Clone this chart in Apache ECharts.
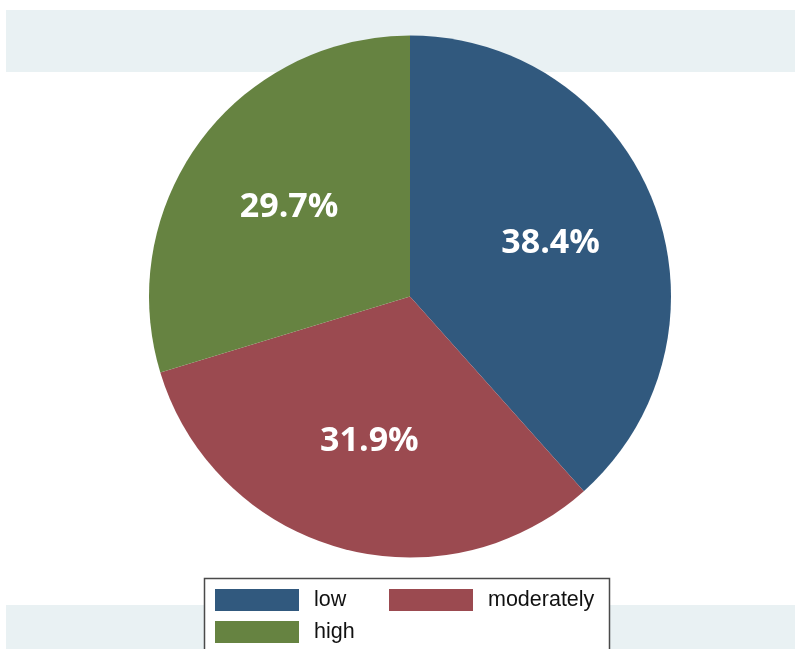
<!DOCTYPE html>
<html>
<head>
<meta charset="utf-8">
<script src="https://cdn.jsdelivr.net/npm/echarts@6/dist/echarts.min.js"></script>
<style>
html, body { margin: 0; padding: 0; background: #fff; }
#chart { width: 795px; height: 649px; }
</style>
</head>
<body>
<div id="chart"></div>
<script>
var categories = ['low', 'moderately', 'high'];
var shares = [38.4, 31.9, 29.7];
var colors = ['#31597e', '#9b4a50', '#668341'];

var pieData = categories.map(function (name, i) {
    return { name: name, value: shares[i], itemStyle: { color: colors[i] } };
});

var myChart = echarts.init(document.getElementById('chart'));
var option = {
    backgroundColor: '#fff',
    animation: false,
    graphic: [
        // outer region band
        { type: 'rect', z: 0, shape: { x: 6, y: 10, width: 800, height: 700 }, style: { fill: '#e9f1f3' } },
        // white plot region
        { type: 'rect', z: 0, shape: { x: 0, y: 72, width: 800, height: 533 }, style: { fill: '#fff' } },
        // legend box
        { type: 'rect', z: 1, shape: { x: 204.5, y: 578.5, width: 405, height: 100 }, style: { fill: '#fff', stroke: '#4a4a4a', lineWidth: 1.5 } }
    ],
    legend: {
        data: categories,
        left: 215,
        top: 589,
        width: 380,
        padding: 0,
        itemWidth: 84,
        itemHeight: 22,
        itemGap: 10,
        icon: 'rect',
        textStyle: {
            fontFamily: 'Liberation Sans, Arial, sans-serif',
            fontSize: 21.5,
            color: '#111',
            width: 65,
            lineHeight: 22,
            padding: [0, 0, 0, 10]
        }
    },
    series: [
        {
            type: 'pie',
            center: [410, 296.5],
            radius: [0, 261],
            startAngle: 90,
            clockwise: true,
            silent: true,
            label: { show: false },
            labelLine: { show: false },
            itemStyle: { borderWidth: 0 },
            data: pieData
        },
        {
            // label carrier, placed a bit outside the half radius
            type: 'pie',
            center: [410, 296.5],
            radius: [34, 261],
            startAngle: 90,
            clockwise: true,
            silent: true,
            legendHoverLink: false,
            itemStyle: { color: 'rgba(0,0,0,0)', borderWidth: 0 },
            label: {
                show: true,
                position: 'inside',
                formatter: function (p) { return p.value.toFixed(1) + '%'; },
                color: '#fff',
                fontFamily: 'Open Sans, sans-serif',
                fontWeight: 'bold',
                fontSize: 34
            },
            labelLine: { show: false },
            data: categories.map(function (name, i) { return { name: name + ' ', value: shares[i] }; })
        }
    ]
};
myChart.setOption(option);
</script>
</body>
</html>
